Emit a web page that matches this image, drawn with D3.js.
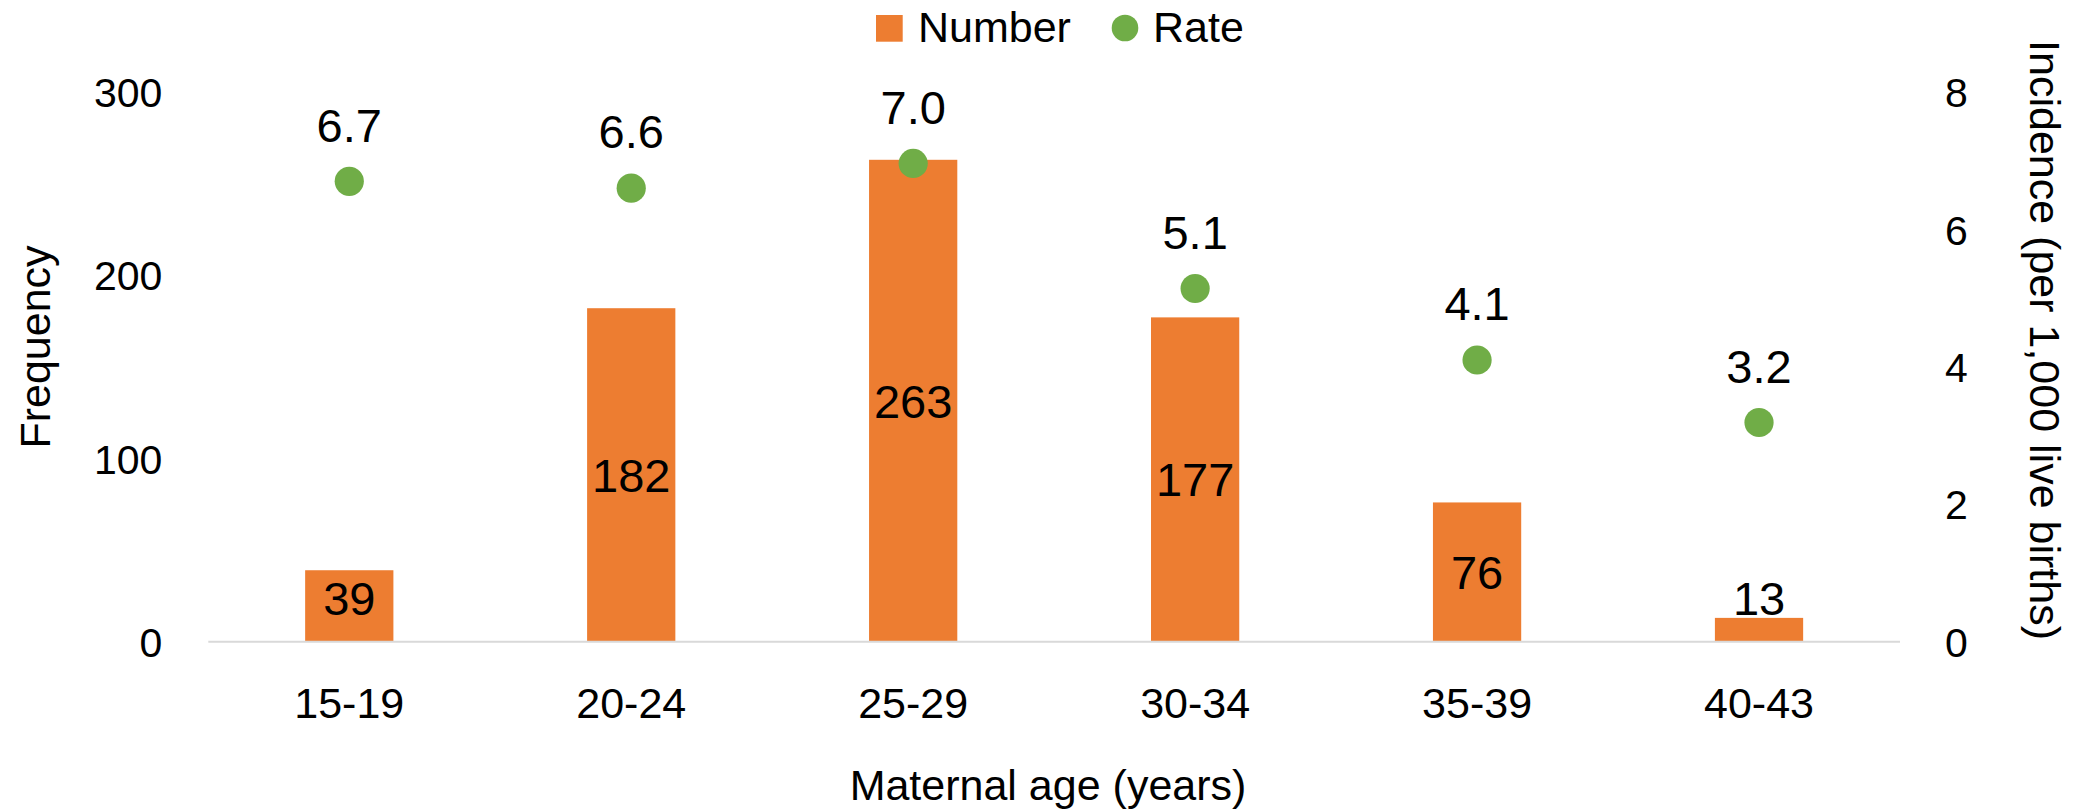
<!DOCTYPE html>
<html>
<head>
<meta charset="utf-8">
<script src="https://cdn.jsdelivr.net/npm/d3@7"></script>
<style>
  html, body { margin: 0; padding: 0; background: #fff; }
  svg { display: block; font-family: "Liberation Sans", Arial, sans-serif; }
</style>
</head>
<body>
<svg id="chart" width="2079" height="809"></svg>
<script>
const categories = ["15-19", "20-24", "25-29", "30-34", "35-39", "40-43"];
const numberValues = [39, 182, 263, 177, 76, 13];
const rateValues = [6.7, 6.6, 6.96, 5.14, 4.1, 3.19];
const leftTicks = [0, 100, 200, 300];
const rightTicks = [0, 2, 4, 6, 8];

const ORANGE = "#ED7D31", GREEN = "#70AD47";
const svg = d3.select("#chart");

const plotLeft = 208.3, plotRight = 1900, plotTop = 92, plotBottom = 641.7;

const x = d3.scaleBand().domain(categories).range([plotLeft, plotRight])
  .paddingInner(0.687).paddingOuter(0.3435);
const yL = d3.scaleLinear().domain([0, 300]).range([plotBottom, plotTop]);
const yR = d3.scaleLinear().domain([0, 8]).range([plotBottom, plotTop]);

const data = categories.map((c, i) => ({ c, n: numberValues[i], r: rateValues[i] }));

// Bars
svg.append("g").selectAll("rect").data(data).join("rect")
  .attr("x", d => x(d.c)).attr("width", x.bandwidth())
  .attr("y", d => yL(d.n)).attr("height", d => yL(0) - yL(d.n))
  .attr("fill", ORANGE);

// Bottom axis line
const xAxis = d3.axisBottom(x).tickSize(0).tickPadding(0);
const gx = svg.append("g").attr("transform", `translate(0,${plotBottom})`).call(xAxis);
gx.select(".domain").attr("stroke", "#D9D9D9").attr("stroke-width", 2)
  .attr("d", `M${plotLeft},0H${plotRight}`);
gx.selectAll(".tick text").attr("font-size", 43).attr("fill", "#000")
  .attr("font-family", "Liberation Sans, Arial, sans-serif")
  .attr("y", 718.3 - plotBottom).attr("dy", null);

// Left axis
const gl = svg.append("g").attr("transform", `translate(${plotLeft},0)`)
  .call(d3.axisLeft(yL).tickValues(leftTicks).tickSize(0).tickPadding(46));
gl.select(".domain").remove();
gl.selectAll(".tick text").attr("font-size", 41).attr("fill", "#000")
  .attr("font-family", "Liberation Sans, Arial, sans-serif")
  .attr("dy", null).attr("y", 14.7);

// Right axis
const gr = svg.append("g").attr("transform", `translate(${plotRight},0)`)
  .call(d3.axisRight(yR).tickValues(rightTicks).tickSize(0).tickPadding(45));
gr.select(".domain").remove();
gr.selectAll(".tick text").attr("font-size", 41).attr("fill", "#000")
  .attr("font-family", "Liberation Sans, Arial, sans-serif")
  .attr("dy", null).attr("y", 14.7);

// Bar labels
svg.append("g").selectAll("text").data(data).join("text")
  .attr("x", d => x(d.c) + x.bandwidth() / 2)
  .attr("y", d => Math.min((yL(d.n) + yL(0)) / 2, yL(0) - 44) + 16.8)
  .attr("text-anchor", "middle").attr("font-size", 47).attr("fill", "#000")
  .text(d => d.n);

// Rate points
svg.append("g").selectAll("circle").data(data).join("circle")
  .attr("cx", d => x(d.c) + x.bandwidth() / 2)
  .attr("cy", d => yR(d.r)).attr("r", 14.6).attr("fill", GREEN);

// Rate labels
const fmt = d3.format(".1f");
svg.append("g").selectAll("text").data(data).join("text")
  .attr("x", d => x(d.c) + x.bandwidth() / 2)
  .attr("y", d => yR(d.r) - 39.7)
  .attr("text-anchor", "middle").attr("font-size", 47).attr("fill", "#000")
  .text(d => fmt(d.r));

// Axis titles
svg.append("text").attr("x", 1048).attr("y", 800).attr("text-anchor", "middle")
  .attr("font-size", 43).attr("fill", "#000").text("Maternal age (years)");
svg.append("text").attr("transform", "translate(50,347) rotate(-90)")
  .attr("text-anchor", "middle").attr("font-size", 43).attr("fill", "#000").text("Frequency");
svg.append("text").attr("transform", "translate(2030,340) rotate(90)")
  .attr("text-anchor", "middle").attr("font-size", 43).attr("fill", "#000")
  .text("Incidence (per 1,000 live births)");

// Legend
const lg = svg.append("g");
lg.append("rect").attr("x", 876).attr("y", 15).attr("width", 26.7).attr("height", 26.7).attr("fill", ORANGE);
lg.append("text").attr("x", 918).attr("y", 42.3).attr("font-size", 43).attr("fill", "#000").text("Number");
lg.append("circle").attr("cx", 1125).attr("cy", 28).attr("r", 13.3).attr("fill", GREEN);
lg.append("text").attr("x", 1153).attr("y", 42.3).attr("font-size", 43).attr("fill", "#000").text("Rate");
</script>
</body>
</html>
